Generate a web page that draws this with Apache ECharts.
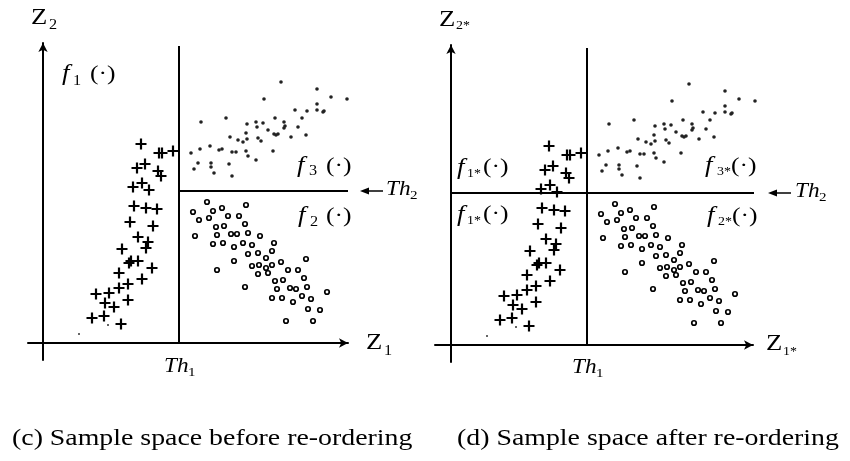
<!DOCTYPE html>
<html>
<head>
<meta charset="utf-8">
<script src="https://cdn.jsdelivr.net/npm/echarts@6/dist/echarts.min.js"></script>
<style>
  html, body { margin: 0; padding: 0; background: #fff; }
  #chart { width: 850px; height: 461px; }
</style>
</head>
<body>
<div id="chart"></div>
<script>
// 阈值（数据单位 = 离原点的像素距离）
const TH1 = 136;
const TH2 = 152;
const TH1_TOP = 297;
const TH2_END = 305;

// 左下区域的 “+” 样本
const plusPts = [[98,199],[116,190],[119,190],[130,192],[94,175],[102,179],[115,172],[118,167],
  [90,156],[99,160],[106,153],[91,137],[103,135],[114,134],[87,121],[110,117],[95,106],[105,101],
  [103,95],[79,94],[88,82],[86,80],[95,82],[109,75],[76,70],[99,64],[85,59],[76,55],[66,50],
  [53,49],[85,43],[62,40],[71,36],[49,25],[61,27],[78,19]];

// 右上区域的小圆点样本
const dotPts = [[238,261],[221,244],[274,254],[288,246],[304,244],[274,239],[252,233],[264,232],
  [274,233],[280,231],[281,232],[158,221],[183,225],[232,225],[213,221],[220,220],[204,219],
  [241,221],[242,217],[241,215],[259,225],[255,216],[214,216],[225,213],[235,209],[233,208],
  [203,210],[187,206],[195,203],[200,201],[204,204],[215,205],[218,202],[231,209],[248,206],
  [263,208],[148,190],[157,194],[167,197],[176,193],[179,194],[189,191],[193,191],[203,192],
  [205,187],[213,183],[230,192],[155,180],[168,180],[168,176],[171,170],[151,174],[186,179],[189,167]];

// 右下区域的空心圆样本
const circlePts = [[164,141],[150,131],[170,132],[179,135],[203,138],[156,123],[166,125],[185,127],
  [196,127],[173,116],[181,117],[202,119],[152,107],[174,108],[188,109],[194,109],[205,110],
  [217,107],[170,99],[180,100],[191,96],[200,100],[209,98],[231,100],[205,89],[215,90],[229,92],
  [223,85],[191,82],[174,73],[209,77],[216,78],[229,78],[238,81],[263,84],[215,69],[225,70],
  [223,75],[245,73],[255,73],[232,62],[240,63],[261,65],[202,56],[234,54],[247,55],[253,54],
  [264,56],[284,51],[229,45],[239,45],[250,41],[259,47],[268,44],[265,34],[277,33],[243,22],[270,22]];

// 零星小点
const speckPts = [[36,9],[65,18]];

let myChart = echarts.init(document.getElementById('chart'));

const SERIF = 'Liberation Serif';
const SX = 1.16;

function txt(x, y, text, size, italic) {
    return {
        type: 'text', x: x, y: y, scaleX: SX,
        style: {
            text: text, fill: '#000', align: 'left', verticalAlign: 'middle',
            fontFamily: SERIF, fontSize: size, fontStyle: italic ? 'italic' : 'normal'
        }
    };
}

// 主字符 + 下标
function subLabel(x, y, main, mainSize, sub, subSize, italic, subDx, subDy) {
    return [txt(x, y, main, mainSize, italic), txt(x + subDx, y + subDy, sub, subSize, false)];
}

function axisCfg(idx, min, max) {
    return {
        type: 'value', gridIndex: idx, min: min, max: max,
        axisLine: { onZero: true, symbol: ['none', 'arrow'], symbolSize: [7, 9],
            lineStyle: { color: '#000', width: 2 } },
        axisTick: { show: false }, axisLabel: { show: false }, splitLine: { show: false }
    };
}

function panelSeries(idx, th2Start) {
    let base = { xAxisIndex: idx, yAxisIndex: idx, clip: false, silent: true, animation: false };
    return [
        Object.assign({ type: 'line', data: [[TH1, 0], [TH1, TH1_TOP]], symbol: 'none',
            lineStyle: { color: '#000', width: 2 } }, base),
        Object.assign({ type: 'line', data: [[th2Start, TH2], [TH2_END, TH2]], symbol: 'none',
            lineStyle: { color: '#000', width: 2 } }, base),
        Object.assign({ type: 'scatter', data: plusPts, symbolSize: 11,
            symbol: 'path://M4.4,0H6.6V4.4H11V6.6H6.6V11H4.4V6.6H0V4.4H4.4Z',
            itemStyle: { color: '#000', opacity: 1 } }, base),
        Object.assign({ type: 'scatter', data: dotPts, symbol: 'circle', symbolSize: 3.6,
            itemStyle: { color: '#222', opacity: 1 } }, base),
        Object.assign({ type: 'scatter', data: circlePts, symbol: 'circle', symbolSize: 4.5,
            itemStyle: { color: '#fff', borderColor: '#000', borderWidth: 1.7, opacity: 1 } }, base),
        Object.assign({ type: 'scatter', data: speckPts, symbol: 'circle', symbolSize: 2,
            itemStyle: { color: '#333', opacity: 1 } }, base)
    ];
}

function leftArrow(x, y) {
    return [
        { type: 'line', shape: { x1: x + 6, y1: y, x2: x + 23, y2: y }, style: { stroke: '#000', lineWidth: 1.5 } },
        { type: 'polygon', shape: { points: [[x, y], [x + 9, y - 3.5], [x + 9, y + 3.5]] }, style: { fill: '#000' } }
    ];
}

let graphics = [].concat(
    // (c)
    subLabel(31, 18, 'Z', 23, '2', 14, false, 18, 7),
    subLabel(62, 74, 'f', 23, '1', 14, true, 11, 7), [txt(90, 74, '(·)', 22, false)],
    subLabel(297, 166, 'f', 23, '3', 14, true, 12, 5), [txt(326, 166, '(·)', 22, false)],
    subLabel(298, 216, 'f', 23, '2', 14, true, 12, 6), [txt(326, 216, '(·)', 22, false)],
    leftArrow(360, 191),
    subLabel(386, 190, 'Th', 20, '2', 13, true, 24, 6),
    subLabel(164, 367, 'Th', 20, '1', 13, true, 24, 6),
    subLabel(366, 343, 'Z', 23, '1', 14, false, 18, 8),
    [txt(12, 439, '(c) Sample space before re-ordering', 24, false)],
    // (d)
    subLabel(439, 20, 'Z', 23, '2*', 12, false, 17, 6),
    subLabel(457, 168, 'f', 23, '1*', 12, true, 10, 6), [txt(483, 167, '(·)', 22, false)],
    subLabel(457, 215, 'f', 23, '1*', 12, true, 10, 6), [txt(483, 214, '(·)', 22, false)],
    subLabel(705, 166, 'f', 23, '3*', 12, true, 12, 6), [txt(731, 166, '(·)', 22, false)],
    subLabel(707, 216, 'f', 23, '2*', 12, true, 11, 6), [txt(732, 216, '(·)', 22, false)],
    leftArrow(768, 193),
    subLabel(795, 192, 'Th', 20, '2', 13, true, 24, 6),
    subLabel(572, 368, 'Th', 20, '1', 13, true, 24, 6),
    subLabel(766, 344, 'Z', 23, '1*', 12, false, 17, 8),
    [txt(457, 439, '(d) Sample space after re-ordering', 24, false)]
);

let option = {
    backgroundColor: '#fff',
    animation: false,
    grid: [
        { left: 28, top: 43, width: 320, height: 317 },
        { left: 435, top: 45, width: 318, height: 317 }
    ],
    xAxis: [axisCfg(0, -15, 305), axisCfg(1, -16, 302)],
    yAxis: [axisCfg(0, -17, 300), axisCfg(1, -17, 300)],
    series: panelSeries(0, TH1).concat(panelSeries(1, 0)),
    graphic: graphics
};

myChart.setOption(option);
</script>
</body>
</html>
